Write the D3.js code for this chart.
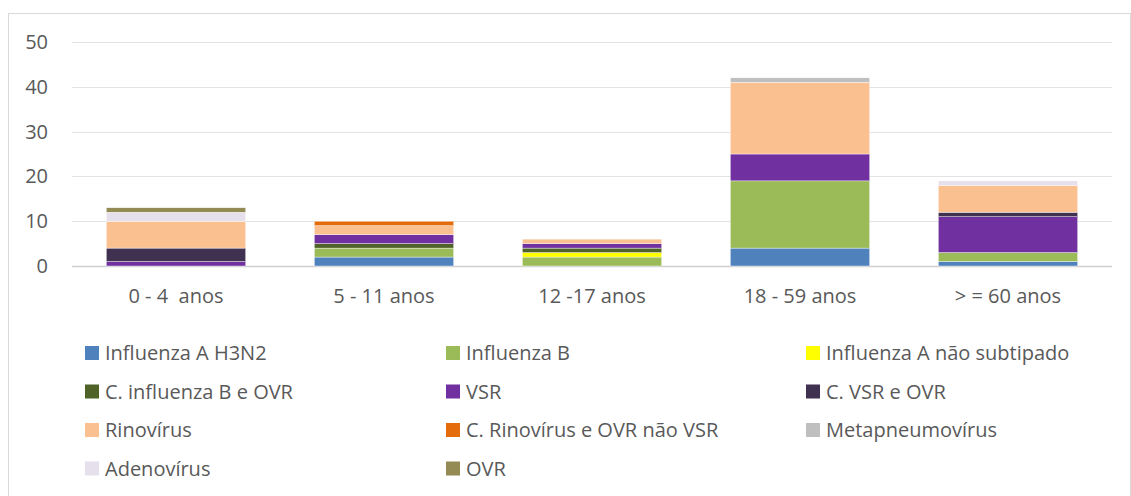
<!DOCTYPE html>
<html>
<head>
<meta charset="utf-8">
<script src="https://cdn.jsdelivr.net/npm/d3@7"></script>
<style>
  body { margin: 0; background: #fff; }
  svg text { font-family: "Open Sans", sans-serif; fill: #595959; }
</style>
</head>
<body>
<div id="chart"></div>
<script>
// age groups on the x axis
var ageGroups = ["0 - 4  anos", "5 - 11 anos", "12 -17 anos", "18 - 59 anos", "> = 60 anos"];

// one array per virus, values per age group (bottom to top in the stack)
var seriesNames = [
    "Influenza A H3N2", "Influenza B", "Influenza A não subtipado",
    "C. influenza B e OVR", "VSR", "C. VSR e OVR",
    "Rinovírus", "C. Rinovírus e OVR não VSR", "Metapneumovírus",
    "Adenovírus", "OVR"
];
var influenzaH3N2   = [0, 2, 0, 4, 1];
var influenzaB      = [0, 2, 2, 15, 2];
var influenzaANaoSub = [0, 0, 1, 0, 0];
var cInfluenzaBOVR  = [0, 1, 1, 0, 0];
var vsr             = [1, 2, 1, 6, 8];
var cVsrOVR         = [3, 0, 0, 0, 1];
var rinovirus       = [6, 2, 1, 16, 6];
var cRinoOVR        = [0, 1, 0, 0, 0];
var metapneumovirus = [0, 0, 0, 1, 0];
var adenovirus      = [2, 0, 0, 0, 1];
var ovr             = [1, 0, 0, 0, 0];

var seriesValues = [influenzaH3N2, influenzaB, influenzaANaoSub, cInfluenzaBOVR, vsr,
    cVsrOVR, rinovirus, cRinoOVR, metapneumovirus, adenovirus, ovr];

var yTicks = [0, 10, 20, 30, 40, 50];

var colors = ["#4f81bd", "#9bbb59", "#ffff00", "#4f6228", "#7030a0", "#403151",
    "#fac090", "#e46c0a", "#bfbfbf", "#e6e0ec", "#948a54"];

var W = 1131, H = 496;
var margin = {top: 42, right: 19, bottom: 230, left: 72},
    width = W - margin.left - margin.right,
    height = H - margin.top - margin.bottom;

// build table rows for d3.stack
var table = ageGroups.map(function(g, i){
    var row = {group: g};
    seriesNames.forEach(function(s, j){ row[s] = seriesValues[j][i]; });
    return row;
});

var stacked = d3.stack().keys(seriesNames)(table);

var svg = d3.select("#chart")
    .append("svg")
    .attr("width", W)
    .attr("height", H);

// outer chart border
svg.append("rect")
    .attr("x", 8.5).attr("y", 13.5)
    .attr("width", W - 9).attr("height", H)
    .attr("fill", "none")
    .attr("stroke", "#d9d9d9");

var g = svg.append("g")
    .attr("transform", "translate(" + margin.left + "," + margin.top + ")");

var x = d3.scaleBand()
    .domain(ageGroups)
    .range([0, width])
    .paddingInner(0.33)
    .paddingOuter(0.165);

var y = d3.scaleLinear()
    .domain([0, 50])
    .range([height, 0]);

// grid lines
g.append("g")
    .selectAll("line")
    .data(yTicks)
    .enter()
    .append("line")
    .attr("x1", 0).attr("x2", width)
    .attr("y1", function(d){ return Math.round(y(d)) + 0.5; })
    .attr("y2", function(d){ return Math.round(y(d)) + 0.5; })
    .attr("stroke", function(d){ return d === 0 ? "#d0d0d0" : "#e3e3e3"; })
    .attr("stroke-width", function(d){ return d === 0 ? 1.5 : 1; });

// y labels
var yAxis = g.append("g")
    .attr("transform", "translate(-24,0)")
    .call(d3.axisLeft(y).tickValues(yTicks).tickSize(0).tickPadding(0));
yAxis.select(".domain").remove();
yAxis.selectAll("text")
    .style("font-size", "20px")
    .style("font-family", "'Open Sans', sans-serif")
    .attr("fill", "#595959");

// bars
g.append("g")
    .selectAll("g")
    .data(stacked)
    .enter()
    .append("g")
    .attr("fill", function(d, i){ return colors[i]; })
    .selectAll("rect")
    .data(function(d){ return d; })
    .enter()
    .append("rect")
    .filter(function(d){ return d[1] - d[0] > 0; })
    .attr("x", function(d){ return x(d.data.group); })
    .attr("y", function(d){ return y(d[1]); })
    .attr("width", x.bandwidth())
    .attr("height", function(d){ return y(d[0]) - y(d[1]); })
    .attr("stroke", "#ffffff")
    .attr("stroke-width", 0.4);

// x labels
var xAxis = g.append("g")
    .attr("transform", "translate(0," + height + ")")
    .call(d3.axisBottom(x).tickSize(0).tickPadding(23));
xAxis.select(".domain").remove();
xAxis.selectAll("text")
    .style("font-size", "20px")
    .style("font-family", "'Open Sans', sans-serif")
    .attr("fill", "#595959")
    .style("white-space", "pre");

// legend, 3 columns
var legendX = [85, 446, 806];
var legendY = [353, 391.5, 430, 468.5];
var legend = svg.append("g")
    .selectAll("g")
    .data(seriesNames)
    .enter()
    .append("g")
    .attr("transform", function(d, i){
        return "translate(" + legendX[i % 3] + "," + legendY[Math.floor(i / 3)] + ")";
    });

legend.append("rect")
    .attr("x", 0).attr("y", -7)
    .attr("width", 14).attr("height", 14)
    .attr("fill", function(d, i){ return colors[i]; });

legend.append("text")
    .attr("x", 20)
    .attr("dy", "0.35em")
    .style("font-size", "20px")
    .text(function(d){ return d; });
</script>
</body>
</html>
